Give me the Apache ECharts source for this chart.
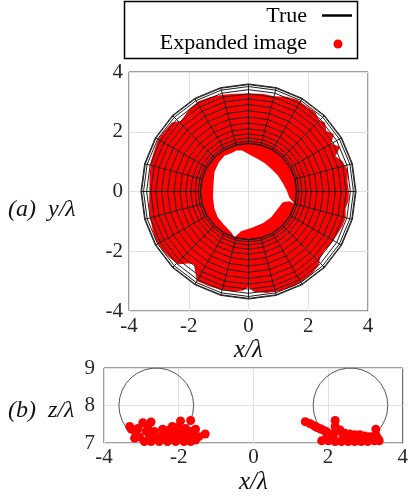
<!DOCTYPE html>
<html>
<head>
<meta charset="utf-8">
<script src="https://cdn.jsdelivr.net/npm/echarts@6/dist/echarts.min.js"></script>
<style>
  html, body { margin: 0; padding: 0; background: #ffffff; }
  #chart { width: 411px; height: 499px; }
</style>
</head>
<body>
<div id="chart"></div>
<script>
// ---- True object: a torus centred at z = 8 (lengths in units of λ) ----
const torusCenterZ = 8;
const majorRadius = 2.6;
const minorRadius = 1.0;
const toroidalDivisions = 24;
const poloidalDivisions = 30;

// ---- Expanded image, x–y view: outer edge (polar angle in degrees, radius) ----
const outerAngle = [0, 6, 12, 18, 22, 26, 30, 34, 38, 42, 45, 50, 56, 62, 68, 75, 82, 90, 98, 105,
  112, 119, 126, 131, 134, 138, 145, 150, 156, 162, 170, 180, 188, 195, 202, 208, 215, 220, 226,
  230, 233, 236, 240, 247, 254, 262, 267, 270, 273, 280, 288, 296, 302, 308, 313, 317, 322, 328,
  334, 340, 345, 350, 355];
const outerRadius = [3.36, 3.33, 3.40, 3.30, 3.14, 3.42, 3.20, 3.44, 3.30, 3.45, 3.36, 3.47, 3.45,
  3.48, 3.42, 3.30, 3.30, 3.28, 3.30, 3.35, 3.41, 3.45, 3.40, 3.30, 3.28, 3.45, 3.47, 3.50, 3.44,
  3.42, 3.36, 3.32, 3.36, 3.41, 3.46, 3.51, 3.48, 3.45, 3.38, 3.15, 3.04, 3.20, 3.46, 3.44, 3.42,
  3.38, 3.32, 3.20, 3.36, 3.45, 3.50, 3.52, 3.50, 3.47, 3.42, 3.28, 3.22, 3.27, 3.30, 3.35, 3.37,
  3.30, 3.36];

// ---- Expanded image, x–y view: edge of the empty region in the middle ----
const holeX = [1.54, 1.37, 1.28, 1.15, 0.98, 0.76, 0.54, 0.31, 0.03, -0.21, -0.41, -0.58, -0.80,
  -0.99, -1.14, -1.17, -1.19, -1.14, -1.03, -0.80, -0.58, -0.47, -0.25, 0.09, 0.48, 0.76, 0.98,
  1.15, 1.37];
const holeY = [-0.41, -0.21, 0.03, 0.28, 0.54, 0.76, 0.95, 1.09, 1.24, 1.37, 1.37, 1.28, 1.20,
  0.98, 0.65, 0.26, -0.19, -0.58, -0.86, -1.14, -1.36, -1.53, -1.33, -1.22, -1.06, -0.86, -0.58,
  -0.36, -0.33];

// ---- Expanded image, x–z view: reconstructed points ----
const sectionX = [
  -2.96, -2.74, -1.95, -1.68, -3.27, -2.43, -2.17, -1.99, -1.82, -1.55, -1.29,
  -3.14, -2.87, -2.65, -2.34, -2.12, -1.86, -1.68, -3.05, -2.78, -2.52, -2.26, -1.99, -1.77,
  -2.92, -2.74, -2.52, -2.30, -2.08, -1.86, -1.68, -1.55,
  -3.18, -2.65, -2.39, -2.12, -1.90, -1.64, -2.83, -2.26, -2.04, -1.46, -3.31, -3.09,
  1.39, 1.51, 1.61, 1.72, 1.83, 1.95, 2.05, 2.19, 2.19, 2.21,
  2.32, 2.45, 2.58, 2.71, 2.85, 2.98, 3.11, 3.28, 3.28,
  1.83, 2.01, 2.19, 2.36, 2.54, 2.71, 2.89, 3.06, 3.24, 3.37,
  1.97, 2.14, 2.40, 2.67, 2.93, 3.15,
  2.05, 2.49, 2.80, 3.20, 3.33, 2.23, 1.67, 1.79, 1.90];
const sectionZ = [
  7.54, 7.56, 7.59, 7.60, 7.37, 7.37, 7.44, 7.44, 7.39, 7.37, 7.24,
  7.26, 7.31, 7.31, 7.26, 7.31, 7.26, 7.31, 7.16, 7.19, 7.17, 7.16, 7.16, 7.17,
  7.04, 7.04, 7.04, 7.04, 7.04, 7.04, 7.04, 7.08,
  7.13, 7.17, 7.13, 7.17, 7.13, 7.19, 7.44, 7.35, 7.35, 7.17, 7.44, 7.39,
  7.57, 7.52, 7.47, 7.41, 7.36, 7.31, 7.25, 7.60, 7.44, 7.31,
  7.35, 7.26, 7.24, 7.22, 7.22, 7.19, 7.17, 7.37, 7.22,
  7.06, 7.06, 7.04, 7.04, 7.04, 7.04, 7.04, 7.04, 7.06, 7.06,
  7.17, 7.16, 7.16, 7.13, 7.11, 7.10,
  7.08, 7.13, 7.08, 7.17, 7.13, 7.35, 7.43, 7.38, 7.33];

// ---- Axis ranges ----
const xyRange = [-4, 4];
const zRange = [7, 9];
const tickStep = 2;
const zTickStep = 1;

const serif = 'Liberation Serif';
const red = '#ff0000';

// Wireframe of the torus seen from above: rings of constant poloidal angle
// and radial spokes of constant toroidal angle.
function topViewMesh() {
  const lines = [];
  for (let j = 0; j <= poloidalDivisions / 2; j++) {
    const theta = 2 * Math.PI * j / poloidalDivisions;
    const rho = majorRadius + minorRadius * Math.cos(theta);
    const coords = [];
    for (let k = 0; k <= toroidalDivisions; k++) {
      const phi = 2 * Math.PI * k / toroidalDivisions;
      coords.push([rho * Math.cos(phi), rho * Math.sin(phi)]);
    }
    lines.push({ coords });
  }
  for (let k = 0; k < toroidalDivisions; k++) {
    const phi = 2 * Math.PI * k / toroidalDivisions;
    const c = Math.cos(phi), s = Math.sin(phi);
    lines.push({ coords: [
      [(majorRadius - minorRadius) * c, (majorRadius - minorRadius) * s],
      [(majorRadius + minorRadius) * c, (majorRadius + minorRadius) * s]
    ] });
  }
  return lines;
}

// Cross-section of the torus in the x–z plane: two circles.
function sideViewSections() {
  return [-majorRadius, majorRadius].map(function (cx) {
    const coords = [];
    for (let j = 0; j <= poloidalDivisions; j++) {
      const theta = 2 * Math.PI * j / poloidalDivisions;
      coords.push([cx + minorRadius * Math.cos(theta), torusCenterZ + minorRadius * Math.sin(theta)]);
    }
    return { coords };
  });
}

// Filled ring of the expanded image with the central hole cut out
// (outer edge and hole are traversed in opposite directions).
function renderImageRegion(params, api) {
  const pts = [];
  for (let i = 0; i < outerAngle.length; i++) {
    const a = outerAngle[i] * Math.PI / 180;
    pts.push(api.coord([outerRadius[i] * Math.cos(a), outerRadius[i] * Math.sin(a)]));
  }
  pts.push(pts[0].slice());
  const hole = [];
  for (let i = holeX.length - 1; i >= 0; i--) {
    hole.push(api.coord([holeX[i], holeY[i]]));
  }
  hole.push(hole[0].slice());
  return {
    type: 'polygon',
    shape: { points: pts.concat(hole) },
    style: { fill: red, stroke: null }
  };
}

const tickLabel = { fontFamily: serif, fontSize: 21, color: '#262626' };
const splitLine = { show: true, lineStyle: { color: '#e2e2e2', width: 1 } };

function valueAxis(gridIndex, range, step, margin, extra) {
  return Object.assign({
    type: 'value',
    gridIndex: gridIndex,
    min: range[0],
    max: range[1],
    interval: step,
    axisLine: { show: false },
    axisTick: { show: false },
    splitLine: splitLine,
    axisLabel: Object.assign({ margin: margin }, tickLabel)
  }, extra || {});
}

const chart = echarts.init(document.getElementById('chart'), null, { renderer: 'canvas' });

chart.setOption({
  animation: false,
  backgroundColor: '#ffffff',
  grid: [
    { left: 129, top: 72, width: 239, height: 239, show: true, borderColor: '#404040', borderWidth: 1, backgroundColor: 'transparent' },
    { left: 104, top: 368, width: 303, height: 75, show: true, borderColor: '#404040', borderWidth: 1, backgroundColor: 'transparent' }
  ],
  xAxis: [
    valueAxis(0, xyRange, tickStep, 5, {
      name: 'x/λ', nameLocation: 'middle', nameGap: 26,
      nameTextStyle: { fontFamily: serif, fontStyle: 'italic', fontSize: 25, color: '#111' }
    }),
    valueAxis(1, xyRange, tickStep, 4, {
      name: 'x/λ', nameLocation: 'middle', nameGap: 27,
      nameTextStyle: { fontFamily: serif, fontStyle: 'italic', fontSize: 25, color: '#111' }
    })
  ],
  yAxis: [
    valueAxis(0, xyRange, tickStep, 6),
    valueAxis(1, zRange, zTickStep, 9)
  ],
  graphic: [
    { type: 'text', x: 8, y: 210, style: { text: '(a)  y/λ', font: 'italic 24px "' + serif + '"', fill: '#111', align: 'left', verticalAlign: 'middle' } },
    { type: 'text', x: 8, y: 411, style: { text: '(b)  z/λ', font: 'italic 24px "' + serif + '"', fill: '#111', align: 'left', verticalAlign: 'middle' } },
    { type: 'rect', shape: { x: 124.5, y: 1.5, width: 233, height: 57 }, style: { fill: '#ffffff', stroke: '#000000', lineWidth: 1.5 } },
    { type: 'text', x: 307, y: 16, style: { text: 'True', font: '22px "' + serif + '"', fill: '#000', align: 'right', verticalAlign: 'middle' } },
    { type: 'line', shape: { x1: 322, y1: 15.5, x2: 352, y2: 15.5 }, style: { stroke: '#000', lineWidth: 2.5 } },
    { type: 'text', x: 307, y: 43, style: { text: 'Expanded image', font: '22px "' + serif + '"', fill: '#000', align: 'right', verticalAlign: 'middle' } },
    { type: 'circle', shape: { cx: 338, cy: 44, r: 4.5 }, style: { fill: red } }
  ],
  series: [
    {
      name: 'Expanded image',
      type: 'custom',
      xAxisIndex: 0, yAxisIndex: 0,
      data: [[0, 0]],
      renderItem: renderImageRegion,
      silent: true
    },
    {
      name: 'True',
      type: 'lines',
      coordinateSystem: 'cartesian2d',
      xAxisIndex: 0, yAxisIndex: 0,
      polyline: true,
      data: topViewMesh(),
      lineStyle: { color: '#1e1e1e', width: 1, opacity: 1 },
      silent: true
    },
    {
      name: 'True',
      type: 'lines',
      coordinateSystem: 'cartesian2d',
      xAxisIndex: 1, yAxisIndex: 1,
      polyline: true,
      data: sideViewSections(),
      lineStyle: { color: '#2a2a2a', width: 0.8, opacity: 1 },
      silent: true
    },
    {
      name: 'Expanded image',
      type: 'scatter',
      xAxisIndex: 1, yAxisIndex: 1,
      data: sectionX.map(function (x, i) { return [x, sectionZ[i]]; }),
      symbol: 'circle',
      symbolSize: 9,
      itemStyle: { color: red, opacity: 1 },
      silent: true
    }
  ]
});
</script>
</body>
</html>
